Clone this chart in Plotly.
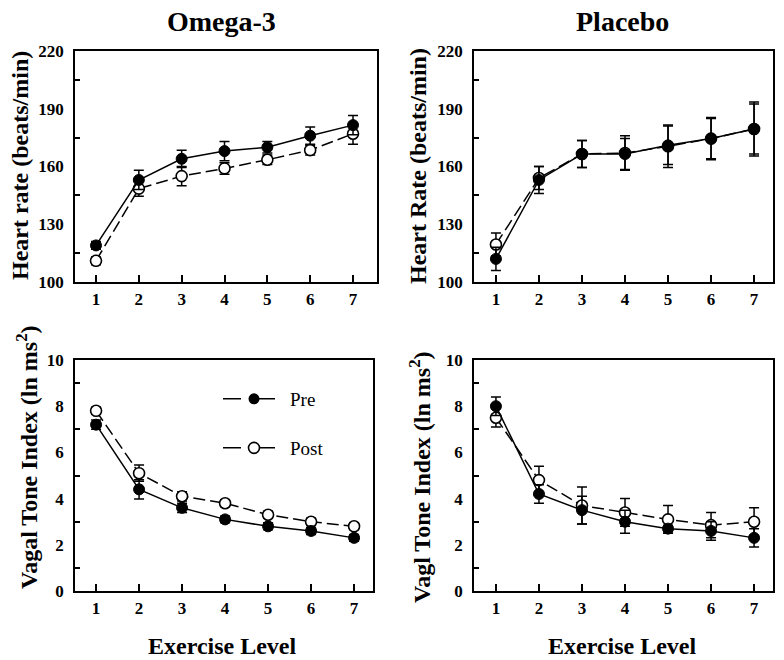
import plotly.graph_objects as go

W, H = 784, 660

levels = [1, 2, 3, 4, 5, 6, 7]

# Omega-3 heart rate
om_hr_pre = [119, 153, 164, 168, 170, 176, 181.5]
om_hr_pre_err = [2, 5, 4.5, 5, 3, 4.5, 5]
om_hr_post = [111, 148.5, 155, 159, 163.5, 168.5, 177]
om_hr_post_err = [2, 4, 5, 3, 2.5, 2.5, 5.5]

# Placebo heart rate
pl_hr_pre = [112, 153, 166.5, 166.5, 171, 174.5, 179.5]
pl_hr_pre_err = [6, 7, 7, 8, 10, 10.5, 13]
pl_hr_post = [119.5, 154, 166.5, 167, 170.5, 174.5, 179.5]
pl_hr_post_err = [6, 6, 7, 9, 11, 11, 14]

# Omega-3 vagal tone
om_vt_pre = [7.2, 4.4, 3.6, 3.1, 2.8, 2.6, 2.3]
om_vt_pre_err = [0.2, 0.42, 0.2, 0.15, 0.15, 0.15, 0.15]
om_vt_post = [7.8, 5.1, 4.1, 3.8, 3.3, 3.0, 2.8]
om_vt_post_err = [0.15, 0.35, 0.2, 0.15, 0.15, 0.15, 0.15]

# Placebo vagal tone
pl_vt_pre = [8.0, 4.2, 3.5, 3.0, 2.7, 2.6, 2.3]
pl_vt_pre_err = [0.4, 0.4, 0.6, 0.5, 0.15, 0.4, 0.4]
pl_vt_post = [7.5, 4.8, 3.7, 3.4, 3.1, 2.85, 3.0]
pl_vt_post_err = [0.4, 0.6, 0.8, 0.6, 0.6, 0.55, 0.6]

panel_titles = ["Omega-3", "Placebo"]
hr_titles = ["Heart rate (beats/min)", "Heart Rate (beats/min)"]
vt_titles = ["Vagal Tone Index (ln ms<sup>2</sup>)", "Vagl Tone Index (ln ms<sup>2</sup>)"]
x_title = "Exercise Level"
legend_names = ["Pre", "Post"]

SERIF = "Liberation Serif"

def px_x(p):
    return p / W

def px_y(p):
    return 1 - p / H

fig = go.Figure()

panels = [
    ("x", "y", om_hr_post, om_hr_post_err, om_hr_pre, om_hr_pre_err),
    ("x2", "y2", pl_hr_post, pl_hr_post_err, pl_hr_pre, pl_hr_pre_err),
    ("x3", "y3", om_vt_post, om_vt_post_err, om_vt_pre, om_vt_pre_err),
    ("x4", "y4", pl_vt_post, pl_vt_post_err, pl_vt_pre, pl_vt_pre_err),
]

for xa, ya, post, post_err, pre, pre_err in panels:
    fig.add_trace(go.Scatter(
        x=levels, y=post, xaxis=xa, yaxis=ya, mode="lines+markers",
        line=dict(color="black", width=1.5, dash="12px,5px"),
        marker=dict(symbol="circle", size=11, color="white",
                    line=dict(color="black", width=1.6)),
        error_y=dict(type="data", array=post_err, visible=True,
                     color="black", thickness=1.5, width=5),
        showlegend=False, hoverinfo="skip"))
    fig.add_trace(go.Scatter(
        x=levels, y=pre, xaxis=xa, yaxis=ya, mode="lines+markers",
        line=dict(color="black", width=1.5),
        marker=dict(symbol="circle", size=11, color="black",
                    line=dict(color="black", width=1)),
        error_y=dict(type="data", array=pre_err, visible=True,
                     color="black", thickness=1.5, width=5),
        showlegend=False, hoverinfo="skip"))

# legend-only traces
LEG_DASH = "18px,16px"
fig.add_trace(go.Scatter(
    x=[None], y=[None], xaxis="x3", yaxis="y3", mode="lines+markers",
    name=legend_names[0], legend="legend",
    line=dict(color="black", width=1.5, dash=LEG_DASH),
    marker=dict(symbol="circle", size=11, color="black")))
fig.add_trace(go.Scatter(
    x=[None], y=[None], xaxis="x3", yaxis="y3", mode="lines+markers",
    name=legend_names[1], legend="legend2",
    line=dict(color="black", width=1.5, dash=LEG_DASH),
    marker=dict(symbol="circle", size=11, color="white",
                line=dict(color="black", width=1.6))))

tickfont = dict(family=SERIF, size=17, color="black", weight="bold")

def xaxis(domain, rng, anchor):
    return dict(domain=domain, range=rng, anchor=anchor, automargin=False,
                tickmode="array", tickvals=levels, ticktext=[str(v) for v in levels],
                ticks="inside", ticklen=7, tickwidth=1.5, tickcolor="black",
                showline=True, linecolor="black", linewidth=1.5, mirror=True,
                showgrid=False, zeroline=False, tickfont=tickfont,
                ticklabelstandoff=1)

def yaxis(domain, rng, dtick, minor0, anchor):
    return dict(domain=domain, range=rng, anchor=anchor, automargin=False,
                tick0=rng[0], dtick=dtick, ticks="",
                minor=dict(ticks="inside", ticklen=5, tickwidth=1.5,
                           tickcolor="black", tick0=minor0, dtick=dtick,
                           showgrid=False),
                showline=True, linecolor="black", linewidth=1.5, mirror=True,
                showgrid=False, zeroline=False, tickfont=tickfont,
                ticklabelstandoff=6)

dom_x_left = [px_x(75), px_x(377)]
dom_x_left_b = [px_x(75), px_x(373)]
dom_x_right = [px_x(474), px_x(773)]
dom_y_top = [px_y(282), px_y(51)]
dom_y_bot = [px_y(591), px_y(360)]

legfont = dict(family=SERIF, size=19, color="black")

fig.update_layout(
    template="none",
    width=W, height=H,
    margin=dict(l=0, r=0, t=0, b=0, autoexpand=False),
    paper_bgcolor="white", plot_bgcolor="white",
    xaxis=xaxis(dom_x_left, [0.51, 7.56], "y"),
    yaxis=yaxis(dom_y_top, [100, 220], 30, 115, "x"),
    xaxis2=xaxis(dom_x_right, [0.49, 7.44], "y2"),
    yaxis2=yaxis(dom_y_top, [100, 220], 30, 115, "x2"),
    xaxis3=xaxis(dom_x_left_b, [0.51, 7.44], "y3"),
    yaxis3=yaxis(dom_y_bot, [0, 10], 2, 1, "x3"),
    xaxis4=xaxis(dom_x_right, [0.49, 7.44], "y4"),
    yaxis4=yaxis(dom_y_bot, [0, 10], 2, 1, "x4"),
    legend=dict(x=px_x(218), y=px_y(399), xanchor="left", yanchor="middle",
                bgcolor="rgba(0,0,0,0)", borderwidth=0, font=legfont,
                itemwidth=62),
    legend2=dict(x=px_x(218), y=px_y(448), xanchor="left", yanchor="middle",
                 bgcolor="rgba(0,0,0,0)", borderwidth=0, font=legfont,
                 itemwidth=62),
    showlegend=True,
)

bold = dict(family=SERIF, color="black", weight="bold")
ann = []
ann.append(dict(text=panel_titles[0], x=px_x(221), y=px_y(22), xref="paper", yref="paper",
                showarrow=False, xanchor="center", yanchor="middle",
                font=dict(size=28, **bold)))
ann.append(dict(text=panel_titles[1], x=px_x(622), y=px_y(22), xref="paper", yref="paper",
                showarrow=False, xanchor="center", yanchor="middle",
                font=dict(size=28, **bold)))
for cx in (222, 622):
    ann.append(dict(text=x_title, x=px_x(cx), y=px_y(646), xref="paper", yref="paper",
                    showarrow=False, xanchor="center", yanchor="middle",
                    font=dict(size=24, **bold)))
ann.append(dict(text=hr_titles[0], x=px_x(20), y=px_y(166), xref="paper", yref="paper",
                showarrow=False, xanchor="center", yanchor="middle", textangle=-90,
                font=dict(size=24, **bold)))
ann.append(dict(text=hr_titles[1], x=px_x(418), y=px_y(166), xref="paper", yref="paper",
                showarrow=False, xanchor="center", yanchor="middle", textangle=-90,
                font=dict(size=24, **bold)))
ann.append(dict(text=vt_titles[0], x=px_x(27), y=px_y(457), xref="paper", yref="paper",
                showarrow=False, xanchor="center", yanchor="middle", textangle=-90,
                font=dict(size=24, **bold)))
ann.append(dict(text=vt_titles[1], x=px_x(420), y=px_y(477), xref="paper", yref="paper",
                showarrow=False, xanchor="center", yanchor="middle", textangle=-90,
                font=dict(size=24, **bold)))
fig.update_layout(annotations=ann)

fig.write_html("out.html", config={"displayModeBar": False},
               post_script="document.body.style.margin='0px';document.body.style.overflow='hidden';")
